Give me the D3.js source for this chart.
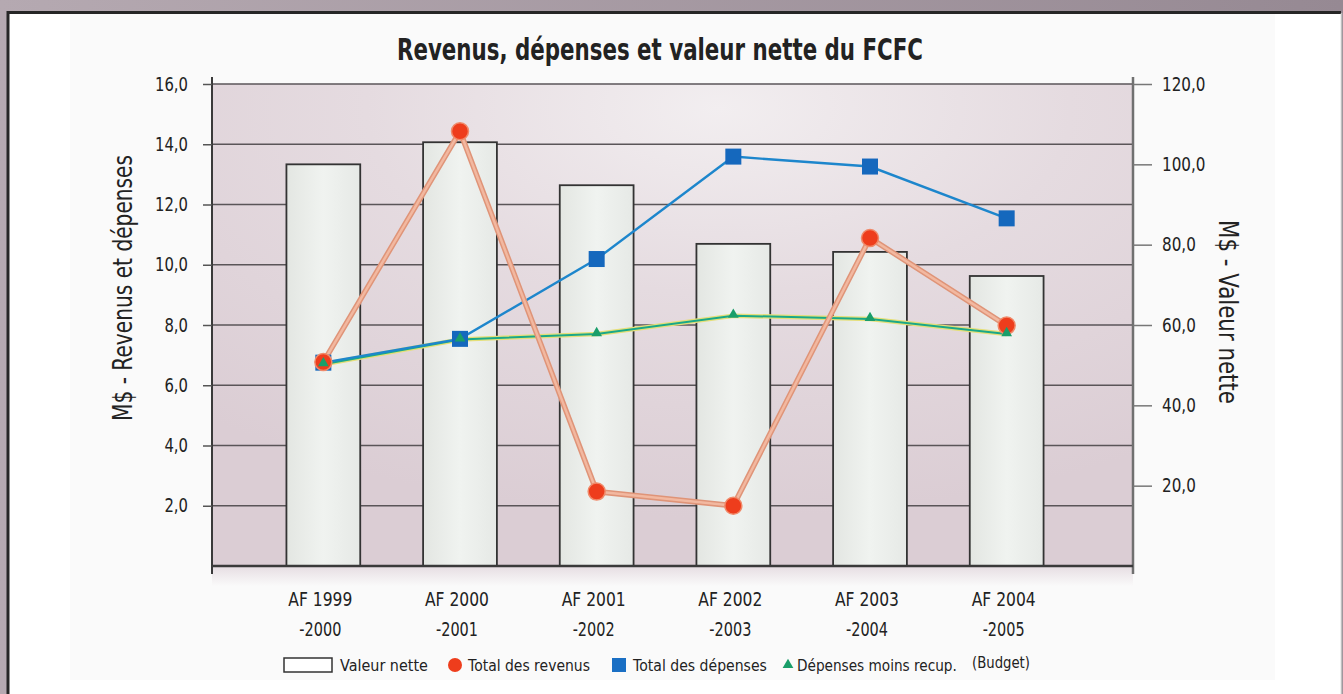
<!DOCTYPE html>
<html><head><meta charset="utf-8">
<script src="https://cdn.jsdelivr.net/npm/d3@7"></script>
<style>
html,body{margin:0;padding:0;background:#b0a4ac;}
svg{display:block;}
text{font-family:'DejaVu Sans',sans-serif;fill:#222;}
</style></head>
<body>
<svg id="chart" width="1343" height="694"></svg>
<script>
const categories = ["AF 1999|-2000","AF 2000|-2001","AF 2001|-2002","AF 2002|-2003","AF 2003|-2004","AF 2004|-2005"];
const valeurNette = [100.0, 105.5, 94.8, 80.2, 78.2, 72.2];
const totalRevenus = [6.77, 14.43, 2.47, 2.0, 10.89, 7.98];
const totalDepenses = [6.75, 7.54, 10.19, 13.59, 13.26, 11.54];
const depensesMoinsRecup = [6.7, 7.52, 7.70, 8.31, 8.2, 7.7];
const leftTicks = [2,4,6,8,10,12,14,16];
const rightTicks = [20,40,60,80,100,120];
const title = "Revenus, dépenses et valeur nette du FCFC";
const leftTitle = "M$ - Revenus et dépenses";
const rightTitle = "M$ - Valeur nette";
const legendLabels = ["Valeur nette","Total des revenus","Total des dépenses","Dépenses moins recup."];
const budgetNote = "(Budget)";

const svg = d3.select("#chart");
const defs = svg.append("defs");

function squeeze(sel, f){
  sel.each(function(){
    const n = this.getComputedTextLength();
    d3.select(this).attr("textLength", n*f).attr("lengthAdjust","spacingAndGlyphs");
  });
}
function fitTo(sel, w){
  sel.attr("textLength", w).attr("lengthAdjust","spacingAndGlyphs");
}
// condensed text via transform scale (keeps bounding boxes true)
function condText(parent, x, y, str, size, w){
  const t = parent.append("text").attr("x",0).attr("y",0).attr("font-size",size).text(str);
  const n = t.node().getComputedTextLength();
  t.attr("transform",`translate(${x},${y}) scale(${w/n},1)`);
  return t;
}

// background
const bg = defs.append("linearGradient").attr("id","bgG").attr("x1",0).attr("x2",1).attr("y1",0).attr("y2",0);
bg.append("stop").attr("offset",0).attr("stop-color","#b5a9b1");
bg.append("stop").attr("offset",1).attr("stop-color","#968993");
svg.append("rect").attr("width",1343).attr("height",694).attr("fill","url(#bgG)");
svg.append("rect").attr("x",8).attr("y",12).attr("width",1333).attr("height",700).attr("fill","#ffffff");
svg.append("line").attr("x1",8).attr("x2",1341).attr("y1",12.5).attr("y2",12.5).attr("stroke","#262626").attr("stroke-width",3);
svg.append("line").attr("x1",8).attr("x2",8).attr("y1",11).attr("y2",694).attr("stroke","#262626").attr("stroke-width",3);
svg.append("line").attr("x1",1341.5).attr("x2",1341.5).attr("y1",13).attr("y2",694).attr("stroke","#c0c0c0").attr("stroke-width",1.5);
svg.append("rect").attr("x",70).attr("y",14).attr("width",1205).attr("height",666).attr("fill","#fafafa");

const L = 212, R = 1133, T = 84, B = 566;
const x = d3.scaleBand().domain(categories).range([255, 1075]).paddingInner(0.46).paddingOuter(0.23);
const yL = d3.scaleLinear().domain([0,16]).range([B,T]);
const yR = d3.scaleLinear().domain([0,120]).range([B,T]);

// plot background gradient
const pg = defs.append("radialGradient").attr("id","plotG").attr("cx",0.55).attr("cy",0.05).attr("r",0.85);
pg.append("stop").attr("offset",0).attr("stop-color","#f2eef0");
pg.append("stop").attr("offset",0.45).attr("stop-color","#e5dbe0");
pg.append("stop").attr("offset",1).attr("stop-color","#dbcdd4");
svg.append("rect").attr("x",L).attr("y",T).attr("width",R-L).attr("height",B-T).attr("fill","url(#plotG)");
const lb = defs.append("linearGradient").attr("id","lowG").attr("x1",0).attr("x2",0).attr("y1",0).attr("y2",1);
lb.append("stop").attr("offset",0).attr("stop-color","#e6dde2");
lb.append("stop").attr("offset",1).attr("stop-color","#fafafa");
svg.append("rect").attr("x",L).attr("y",B).attr("width",R-L).attr("height",20).attr("fill","url(#lowG)");

// gridlines
svg.append("g").selectAll("line").data(leftTicks).join("line")
  .attr("x1",L).attr("x2",R).attr("y1",d=>yL(d)).attr("y2",d=>yL(d))
  .attr("stroke","#5a5558").attr("stroke-width",1.6);

// bars
const barG = defs.append("linearGradient").attr("id","barG").attr("x1",0).attr("x2",1).attr("y1",0).attr("y2",0);
barG.append("stop").attr("offset",0).attr("stop-color","#e3e6e2");
barG.append("stop").attr("offset",0.5).attr("stop-color","#f0f3f0");
barG.append("stop").attr("offset",1).attr("stop-color","#e6e9e6");
svg.append("g").selectAll("rect").data(valeurNette).join("rect")
  .attr("x",(d,i)=>x(categories[i])).attr("width",x.bandwidth())
  .attr("y",d=>yR(d)).attr("height",d=>B-yR(d))
  .attr("fill","url(#barG)").attr("stroke","#333").attr("stroke-width",1.8);

// axes lines
svg.append("line").attr("x1",L).attr("x2",L).attr("y1",T-7).attr("y2",B+8).attr("stroke","#3a3a3a").attr("stroke-width",2);
svg.append("line").attr("x1",R).attr("x2",R).attr("y1",T-7).attr("y2",B+8).attr("stroke","#707070").attr("stroke-width",2.5);
svg.append("line").attr("x1",L).attr("x2",R).attr("y1",B).attr("y2",B).attr("stroke","#3a3a3a").attr("stroke-width",2.5);

const fmt = d => d3.format(".1f")(d).replace(".",",");
// left axis
const axL = svg.append("g").attr("transform",`translate(${L},0)`)
  .call(d3.axisLeft(yL).tickValues([...leftTicks]).tickSize(9).tickPadding(15).tickFormat(fmt));
axL.select(".domain").remove();
axL.selectAll(".tick line").attr("stroke","#555").attr("stroke-width",1.5);
axL.selectAll(".tick text").attr("font-size",19).attr("fill","#222").attr("font-family","DejaVu Sans");
squeeze(axL.selectAll(".tick text"), 0.78);
// right axis
const axR = svg.append("g").attr("transform",`translate(${R},0)`)
  .call(d3.axisRight(yR).tickValues(rightTicks).tickSize(19).tickPadding(10).tickFormat(fmt));
axR.select(".domain").remove();
axR.selectAll(".tick line").attr("stroke","#777").attr("stroke-width",1.5);
axR.selectAll(".tick text").attr("font-size",19).attr("fill","#222").attr("font-family","DejaVu Sans");
squeeze(axR.selectAll(".tick text"), 0.8);

// x labels
const mid = d => x(d)+x.bandwidth()/2;
const xl1 = svg.append("g").selectAll("text").data(categories).join("text")
  .attr("x",d=>mid(d)-3).attr("y",606).attr("text-anchor","middle").attr("font-size",19).text(d=>d.split("|")[0]);
fitTo(xl1, 64);
const xl2 = svg.append("g").selectAll("text").data(categories).join("text")
  .attr("x",d=>mid(d)-3).attr("y",636).attr("text-anchor","middle").attr("font-size",19).text(d=>d.split("|")[1]);
fitTo(xl2, 42);

const cx = i => x(categories[i]) + x.bandwidth()/2;

// lines
const lineL = arr => d3.line().x((d,i)=>cx(i)).y(d=>yL(d))(arr);
svg.append("path").attr("d",lineL(depensesMoinsRecup)).attr("fill","none").attr("stroke","#e5df78").attr("stroke-width",4.5);
svg.append("path").attr("d",lineL(depensesMoinsRecup)).attr("fill","none").attr("stroke","#1aa888").attr("stroke-width",2);
svg.append("path").attr("d",lineL(totalDepenses)).attr("fill","none").attr("stroke","#1d86cc").attr("stroke-width",2.4);
svg.append("path").attr("d",lineL(totalRevenus)).attr("fill","none").attr("stroke","#df9478").attr("stroke-width",5.5);
svg.append("path").attr("d",lineL(totalRevenus)).attr("fill","none").attr("stroke","#f2b8a0").attr("stroke-width",2.5);

// markers
svg.append("g").selectAll("rect").data(totalDepenses).join("rect")
  .attr("x",(d,i)=>cx(i)-8).attr("y",d=>yL(d)-8).attr("width",16).attr("height",16).attr("fill","#1568bd");
svg.append("g").selectAll("circle").data(totalRevenus).join("circle")
  .attr("cx",(d,i)=>cx(i)).attr("cy",d=>yL(d)).attr("r",8.5).attr("fill","#ee3d1c").attr("stroke","#f08a6a").attr("stroke-width",1.5);
const tri = d3.symbol().type(d3.symbolTriangle).size(50);
svg.append("g").selectAll("path").data(depensesMoinsRecup).join("path")
  .attr("d",tri).attr("transform",(d,i)=>`translate(${cx(i)},${yL(d)-1})`).attr("fill","#1a9e6a");

// title
const tt = svg.append("text").attr("x",660).attr("y",60).attr("text-anchor","middle").attr("font-size",30).attr("font-weight","bold").attr("fill","#111").text(title);
fitTo(tt, 526);
// axis titles
const lt = svg.append("text").attr("transform","translate(132,288) rotate(-90)").attr("text-anchor","middle").attr("font-size",27).text(leftTitle);
fitTo(lt, 266);
const rt = svg.append("text").attr("transform","translate(1219,312) rotate(90)").attr("text-anchor","middle").attr("font-size",27).text(rightTitle);
fitTo(rt, 184);

// legend
const lg = svg.append("g");
const ly = 665;
lg.append("rect").attr("x",284).attr("y",ly-7).attr("width",48).attr("height",14).attr("fill","#fff").attr("stroke","#333").attr("stroke-width",1.5);
condText(lg, 340, ly+6, legendLabels[0], 16, 88);
lg.append("circle").attr("cx",455).attr("cy",ly).attr("r",7).attr("fill","#ee3d1c");
condText(lg, 468, ly+6, legendLabels[1], 16, 122);
lg.append("rect").attr("x",612).attr("y",ly-7).attr("width",14).attr("height",14).attr("fill","#1a6fc4");
condText(lg, 633, ly+6, legendLabels[2], 16, 134);
lg.append("path").attr("d",tri).attr("transform",`translate(788,${ly})`).attr("fill","#1a9e6a");
condText(lg, 797, ly+6, legendLabels[3], 16, 160);
condText(lg, 972, ly+3, budgetNote, 15, 58);
</script>
</body></html>
